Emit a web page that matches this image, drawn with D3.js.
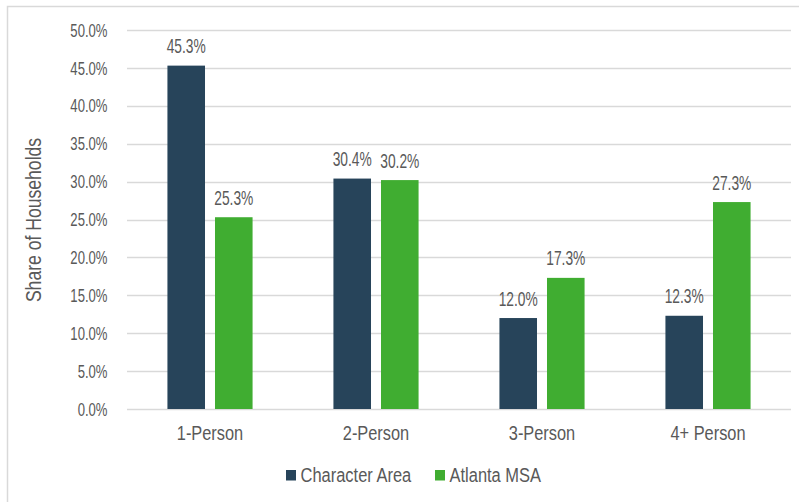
<!DOCTYPE html>
<html>
<head>
<meta charset="utf-8">
<script src="https://cdn.jsdelivr.net/npm/d3@7"></script>
<style>
  html, body { margin: 0; padding: 0; background: #fff; }
  svg text { font-family: "Liberation Sans", Arial, sans-serif; fill: #595959; }
</style>
</head>
<body>
<div id="chart"></div>
<script>
// Household size shares
const categories = ['1-Person', '2-Person', '3-Person', '4+ Person'];
const seriesNames = ['Character Area', 'Atlanta MSA'];
const characterArea = [45.3, 30.4, 12.0, 12.3];
const atlantaMsa = [25.3, 30.2, 17.3, 27.3];
const yTicks = [0, 5, 10, 15, 20, 25, 30, 35, 40, 45, 50];
const colors = ['#27445a', '#40ad31'];

const width = 799, height = 502;
const margin = { top: 30, right: 8, bottom: 93, left: 127 };

const svg = d3.select('#chart')
  .append('svg')
  .attr('width', width)
  .attr('height', height);

// the source picture is squeezed sideways, so texts get a horizontal scale
function squeezed(sel, px, py, size, sx) {
  return sel
    .style('font-size', size + 'px')
    .attr('transform', (d, i) => `translate(${px(d, i)},${py(d, i)}) scale(${sx},1)`);
}

// outer frame (top and left edges visible)
svg.append('path')
  .attr('d', `M7.5,${height} L7.5,6.5 L${width},6.5`)
  .attr('fill', 'none')
  .attr('stroke', '#d9d9d9')
  .attr('stroke-width', 1.5);

const x = d3.scaleBand()
  .domain(categories)
  .range([margin.left, width - margin.right]);

const x1 = d3.scaleBand()
  .domain(seriesNames)
  .range([0, x.bandwidth()])
  .paddingInner(0.21)
  .paddingOuter(0.85);

const y = d3.scaleLinear()
  .domain([0, 50])
  .range([height - margin.bottom, margin.top]);

// gridlines
svg.append('g')
  .selectAll('line')
  .data(yTicks)
  .enter()
  .append('line')
  .attr('x1', margin.left)
  .attr('x2', width - margin.right)
  .attr('y1', d => Math.round(y(d)) + 0.5)
  .attr('y2', d => Math.round(y(d)) + 0.5)
  .attr('stroke', '#d9d9d9')
  .attr('stroke-width', 1.5);

// y tick labels
squeezed(svg.append('g')
  .selectAll('text')
  .data(yTicks)
  .enter()
  .append('text')
  .attr('dy', '0.35em')
  .attr('text-anchor', 'end')
  .text(d => d.toFixed(1) + '%'), () => 107.5, d => y(d), 19, 0.69);

// y axis title
svg.append('text')
  .attr('transform', 'translate(41,220) rotate(-90) scale(0.8,1)')
  .attr('text-anchor', 'middle')
  .style('font-size', '22px')
  .text('Share of Households');

// bars
const rows = categories.map((c, i) => ({ cat: c, values: [characterArea[i], atlantaMsa[i]] }));

const groups = svg.append('g')
  .selectAll('g')
  .data(rows)
  .enter()
  .append('g')
  .attr('transform', d => `translate(${x(d.cat)},0)`);

groups.selectAll('rect')
  .data(d => d.values.map((v, j) => ({ name: seriesNames[j], value: v, j })))
  .enter()
  .append('rect')
  .attr('x', d => x1(d.name))
  .attr('width', x1.bandwidth())
  .attr('y', d => y(d.value))
  .attr('height', d => y(0) - y(d.value))
  .attr('fill', d => colors[d.j]);

squeezed(groups.selectAll('text.val')
  .data(d => d.values.map((v, j) => ({ name: seriesNames[j], value: v, j })))
  .enter()
  .append('text')
  .attr('class', 'val')
  .attr('text-anchor', 'middle')
  .text(d => d.value.toFixed(1) + '%'),
  d => x1(d.name) + x1.bandwidth() / 2, d => y(d.value) - 12.5, 20, 0.69);

// x category labels
squeezed(svg.append('g')
  .selectAll('text')
  .data(categories)
  .enter()
  .append('text')
  .attr('text-anchor', 'middle')
  .text(d => d), d => x(d) + x.bandwidth() / 2, () => 439.5, 21, 0.78);

// legend
const legendX = [286, 435];
const legend = svg.append('g')
  .selectAll('g')
  .data(seriesNames)
  .enter()
  .append('g')
  .attr('transform', (d, i) => `translate(${legendX[i]},470)`);

legend.append('rect')
  .attr('width', 10)
  .attr('height', 10.5)
  .attr('fill', (d, i) => colors[i]);

legend.append('text')
  .attr('transform', 'translate(14.5,11.5) scale(0.785,1)')
  .style('font-size', '21px')
  .text(d => d);
</script>
</body>
</html>
